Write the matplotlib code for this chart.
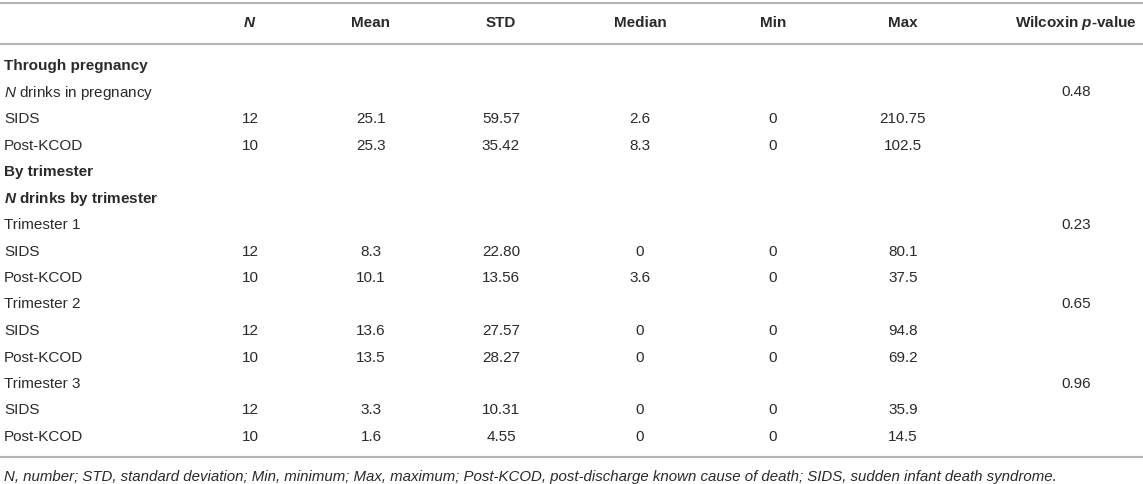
import matplotlib
matplotlib.use("agg")
from matplotlib import pyplot as plt

plt.rcParams['font.family'] = ['Liberation Sans', 'DejaVu Sans']
plt.rcParams['mathtext.fontset'] = 'custom'
plt.rcParams['mathtext.rm'] = 'Liberation Sans'
plt.rcParams['mathtext.it'] = 'Liberation Sans:italic'
plt.rcParams['mathtext.bf'] = 'Liberation Sans:bold'
plt.rcParams['mathtext.bfit'] = 'Liberation Sans:italic:bold'

headers = ["$\\mathbfit{N}$", "Mean", "STD", "Median", "Min", "Max", "Wilcoxin $\\mathbfit{p}$-value"]

row_labels = ["Through pregnancy", "$\\mathit{N}$ drinks in pregnancy", "SIDS", "Post-KCOD",
              "By trimester", "$\\mathbfit{N}$ drinks by trimester",
              "Trimester 1", "SIDS", "Post-KCOD",
              "Trimester 2", "SIDS", "Post-KCOD",
              "Trimester 3", "SIDS", "Post-KCOD"]
row_bold = [True, False, False, False, True, True,
            False, False, False, False, False, False, False, False, False]
n_vals =      ["", "", "12", "10", "", "", "", "12", "10", "", "12", "10", "", "12", "10"]
mean_vals =   ["", "", "25.1", "25.3", "", "", "", "8.3", "10.1", "", "13.6", "13.5", "", "3.3", "1.6"]
std_vals =    ["", "", "59.57", "35.42", "", "", "", "22.80", "13.56", "", "27.57", "28.27", "", "10.31", "4.55"]
median_vals = ["", "", "2.6", "8.3", "", "", "", "0", "3.6", "", "0", "0", "", "0", "0"]
min_vals =    ["", "", "0", "0", "", "", "", "0", "0", "", "0", "0", "", "0", "0"]
max_vals =    ["", "", "210.75", "102.5", "", "", "", "80.1", "37.5", "", "94.8", "69.2", "", "35.9", "14.5"]
p_vals =      ["", "0.48", "", "", "", "", "0.23", "", "", "0.65", "", "", "0.96", "", ""]

footnote = ("N, number; STD, standard deviation; Min, minimum; Max, maximum; "
            "Post-KCOD, post-discharge known cause of death; SIDS, sudden infant death syndrome.")

W, H = 1143, 484
fig = plt.figure(figsize=(W / 100, H / 100), dpi=100)
ax = fig.add_axes([0, 0, 1, 1])
ax.set_xlim(0, W)
ax.set_ylim(H, 0)
ax.axis("off")

txt = "#2a2a2a"
line_c = "#b4b4b4"
fs = 11
col_x = [250, 371, 501, 640, 773, 903, 1076]

for y in [3, 43.5, 457]:
    ax.axhline(y, color=line_c, lw=1.5)

for x, h in zip(col_x, headers):
    ax.text(x, 23, h, ha="center", va="center", fontsize=fs, fontweight="bold", color=txt)

y0, dy = 66, 26.5
columns = [n_vals, mean_vals, std_vals, median_vals, min_vals, max_vals, p_vals]
for i, lab in enumerate(row_labels):
    y = y0 + i * dy
    ax.text(4, y, lab, ha="left", va="center", fontsize=fs, color=txt,
            fontweight="bold" if row_bold[i] else "normal")
    for x, col in zip(col_x, columns):
        if col[i]:
            ax.text(x, y, col[i], ha="center", va="center", fontsize=fs, color=txt)

ax.text(4, 477, footnote, ha="left", va="center", fontsize=10.8, style="italic", color=txt)

fig.savefig("out.png", dpi=100)
